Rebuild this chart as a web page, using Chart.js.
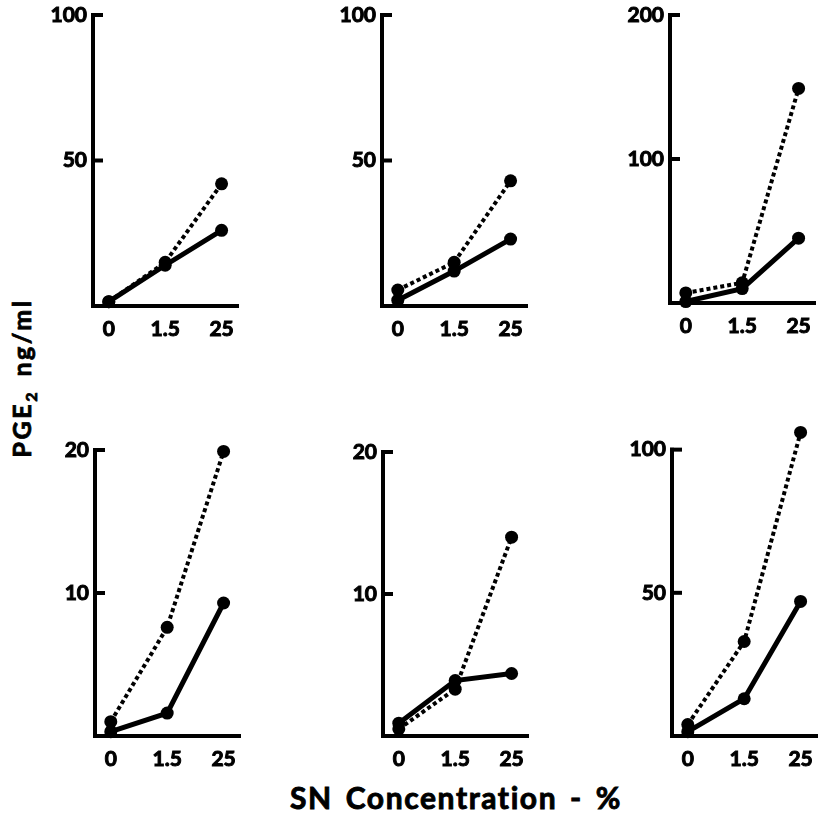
<!DOCTYPE html>
<html lang="en">
<head>
<meta charset="UTF-8">
<title>PGE2 x SN Concentration</title>
<script src="https://cdn.jsdelivr.net/npm/chart.js"></script>
<style>
  body { margin: 0; background: #fff; }
  #tela { position: relative; width: 822px; height: 815px; overflow: hidden; background: #fff; }
  .painel { position: absolute; }
  #tituloY {
    position: absolute; left: 23px; top: 378px;
    transform: translate(-50%, -50%) rotate(-90deg);
    font: bold 25px Lato, sans-serif; color: #000; white-space: nowrap;
    letter-spacing: 2.5px; word-spacing: 5px;
    -webkit-text-stroke: 0.8px #000;
  }
  #tituloX {
    position: absolute; left: 456px; top: 797px;
    transform: translate(-50%, -50%);
    font: bold 30px Lato, sans-serif; color: #000; white-space: nowrap;
    letter-spacing: 1.6px; word-spacing: 4px;
    -webkit-text-stroke: 0.9px #000;
  }
</style>
</head>
<body>
<div id="tela">
  <div class="painel"><canvas id="g1"></canvas></div>
  <div class="painel"><canvas id="g2"></canvas></div>
  <div class="painel"><canvas id="g3"></canvas></div>
  <div class="painel"><canvas id="g4"></canvas></div>
  <div class="painel"><canvas id="g5"></canvas></div>
  <div class="painel"><canvas id="g6"></canvas></div>
  <div id="tituloY">PGE<sub style="font-size:16px">2</sub> ng/ml</div>
  <div id="tituloX">SN Concentration - %</div>
</div>

<script>
// concentrações do eixo x (rótulos)
const concentracoes = ['0', '1.5', '25'];

const p1Pontilhada = [1.5, 15, 42];
const p1Continua   = [1.5, 14, 26];
const p2Pontilhada = [5.5, 15, 43];
const p2Continua   = [2, 12, 23];
const p3Pontilhada = [7, 14, 149];
const p3Continua   = [1, 10, 45];
const p4Pontilhada = [1.0, 7.6, 19.9];
const p4Continua   = [0.3, 1.6, 9.3];
const p5Pontilhada = [0.5, 3.3, 14.0];
const p5Continua   = [0.9, 3.9, 4.4];
const p6Pontilhada = [4, 33, 106];
const p6Continua   = [1.5, 13, 47];

// último tick do eixo y de cada painel, e até onde a escala vai
const topos = [100, 100, 200, 20, 20, 100];
const maxEscala = [100, 100, 200, 20, 20, 110];

const pontilhadas = [p1Pontilhada, p2Pontilhada, p3Pontilhada, p4Pontilhada, p5Pontilhada, p6Pontilhada];
const continuas = [p1Continua, p2Continua, p3Continua, p4Continua, p5Continua, p6Continua];

// posição de cada painel na tela (eixo y em x, y do último tick, altura do eixo)
const posicoes = [
  { x: 93,  y: 15,  h: 291 },
  { x: 382, y: 15,  h: 291 },
  { x: 670, y: 15,  h: 288 },
  { x: 95,  y: 450, h: 286 },
  { x: 383, y: 452, h: 284 },
  { x: 672, y: 450, h: 286 }
];

const LARG_EIXO_Y = 50;
const ALT_EIXO_X = 34;
const PAD_TOPO = 14;
const LARG_AREA = 148;
const PAD_DIR = 4;

const fonteTicks = { family: 'Lato', weight: 'bold', size: 21 };

// desenha o eixo y só até o último tick, com os tracinhos pra dentro
const eixoY = {
  id: 'eixoY',
  afterDraw(chart) {
    const ctx = chart.ctx;
    const y = chart.scales.y;
    const x0 = chart.chartArea.left;
    const topo = chart.options.topo;
    ctx.save();
    ctx.strokeStyle = '#000';
    ctx.lineWidth = 4;
    ctx.lineCap = 'butt';
    ctx.beginPath();
    ctx.moveTo(x0, y.getPixelForValue(0) + 2);
    ctx.lineTo(x0, y.getPixelForValue(topo) - 2);
    ctx.stroke();
    [topo / 2, topo].forEach(function (v) {
      const py = y.getPixelForValue(v);
      ctx.beginPath();
      ctx.moveTo(x0 - 2, py);
      ctx.lineTo(x0 + 10, py);
      ctx.stroke();
    });
    ctx.restore();
  }
};

function criarPainel(i) {
  const pos = posicoes[i];
  const topo = topos[i];
  const max = maxEscala[i];
  const altArea = pos.h * max / topo;
  const extra = altArea - pos.h;
  const largura = LARG_EIXO_Y + LARG_AREA + PAD_DIR;
  const altura = Math.round(PAD_TOPO + altArea + ALT_EIXO_X);

  const div = document.getElementsByClassName('painel')[i];
  div.style.left = (pos.x - LARG_EIXO_Y) + 'px';
  div.style.top = Math.round(pos.y - extra - PAD_TOPO) + 'px';
  div.style.width = largura + 'px';
  div.style.height = altura + 'px';

  const canvas = document.getElementById('g' + (i + 1));
  canvas.width = largura;
  canvas.height = altura;

  const pontos = (lista) => lista.map((v, j) => ({ x: j, y: v }));

  const estiloComum = {
    borderColor: '#000',
    backgroundColor: '#000',
    pointRadius: 6.5,
    pointBorderWidth: 0,
    pointBackgroundColor: '#000',
    clip: false
  };

  const dados = {
    datasets: [
      Object.assign({ label: 'pontilhada', data: pontos(pontilhadas[i]), borderWidth: 4, borderDash: [4, 3] }, estiloComum),
      Object.assign({ label: 'continua', data: pontos(continuas[i]), borderWidth: 5 }, estiloComum)
    ]
  };

  const config = {
    type: 'line',
    data: dados,
    plugins: [eixoY],
    options: {
      topo: topo,
      responsive: false,
      animation: false,
      events: [],
      layout: { padding: { top: PAD_TOPO, right: PAD_DIR, left: 0, bottom: 0 } },
      plugins: { legend: { display: false }, tooltip: { enabled: false } },
      scales: {
        x: {
          type: 'linear',
          min: -0.28,
          max: 2.3,
          afterBuildTicks: (s) => { s.ticks = [0, 1, 2].map(v => ({ value: v })); },
          afterFit: (s) => { s.height = ALT_EIXO_X; },
          ticks: {
            callback: (v) => concentracoes[v],
            font: fonteTicks,
            color: '#000',
            textStrokeColor: '#000',
            textStrokeWidth: 1,
            padding: 3,
            maxRotation: 0,
            autoSkip: false
          },
          grid: { display: false },
          border: { display: true, color: '#000', width: 4 }
        },
        y: {
          min: 0,
          max: max,
          afterBuildTicks: (s) => { s.ticks = [0, topo / 2, topo].map(v => ({ value: v })); },
          afterFit: (s) => { s.width = LARG_EIXO_Y; s.paddingTop = 0; s.paddingBottom = 0; },
          ticks: {
            callback: (v) => v === 0 ? '' : v,
            font: fonteTicks,
            color: '#000',
            textStrokeColor: '#000',
            textStrokeWidth: 1,
            padding: 6
          },
          grid: { display: false, drawTicks: false },
          border: { display: false }
        }
      }
    }
  };

  new Chart(canvas, config);
}

for (let i = 0; i < 6; i++) {
  criarPainel(i);
}
</script>
</body>
</html>
